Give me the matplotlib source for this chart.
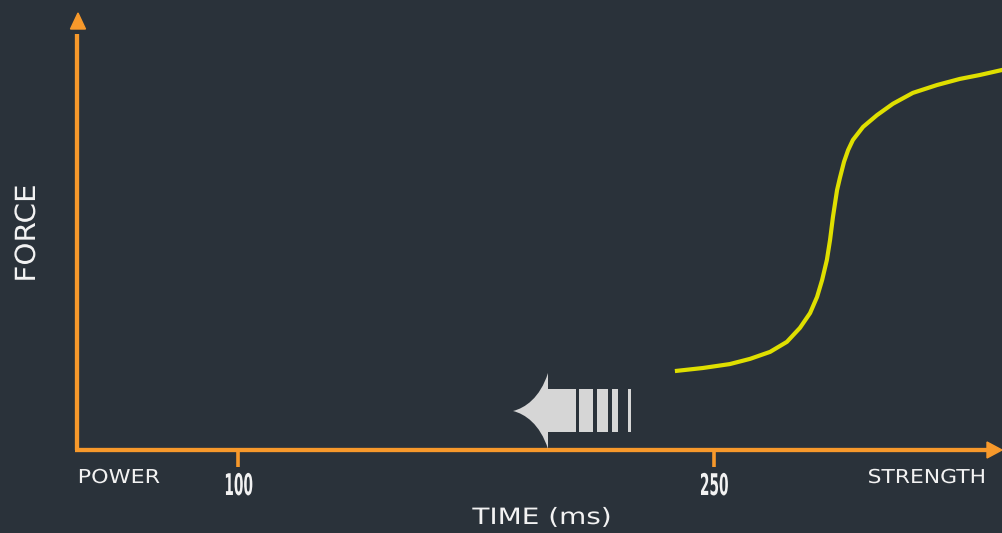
import matplotlib
matplotlib.use("Agg")
import matplotlib.pyplot as plt
import matplotlib.transforms as mtransforms
import matplotlib.patheffects as pe
from matplotlib.patches import Polygon, Rectangle, PathPatch
from matplotlib.path import Path

# colours
BG = "#2a323a"
ORANGE = "#f7992b"
YELLOW = "#dfdf00"
WHITE = "#f2f2f2"
GREY = "#d6d6d6"

# force curve (time in ms, force in arbitrary units)
time_ms = [237.7, 246.5, 255.0, 261.4, 267.7, 273.0, 277.1, 280.3, 282.5,
           284.1, 285.6, 286.6, 287.5, 288.8, 289.7, 291.0, 292.3, 293.8,
           297.0, 301.4, 306.4, 312.7, 320.3, 327.5, 333.8, 341.1]
force = [18.1, 18.8, 19.7, 20.9, 22.5, 24.8, 28.0, 31.4, 35.1,
         39.0, 43.6, 48.2, 53.4, 59.6, 62.4, 66.1, 68.8, 71.1,
         74.1, 76.8, 79.4, 81.9, 83.7, 85.1, 86.0, 87.2]

tick_values = [100, 250]
tick_labels = ["100", "250"]
x_title = "TIME (ms)"
y_title = "FORCE"
left_label = "POWER"
right_label = "STRENGTH"


# stretch glyphs along the text direction (keeps the text as text)
class Stretch(pe.AbstractPathEffect):
    def __init__(self, sx, anchor="center"):
        super().__init__()
        self.sx = sx
        self.anchor = anchor

    def draw_path(self, renderer, gc, tpath, affine, rgbFace=None):
        ext = tpath.get_extents()
        if self.anchor == "left":
            cx = ext.x0
        elif self.anchor == "right":
            cx = ext.x1
        else:
            cx = (ext.x0 + ext.x1) / 2
        sq = mtransforms.Affine2D().translate(-cx, 0).scale(self.sx, 1).translate(cx, 0)
        renderer.draw_path(gc, tpath, sq + affine, rgbFace)


W, H = 1003, 533
fig = plt.figure(figsize=(W / 100, H / 100), dpi=100, facecolor=BG)
ax = fig.add_axes([0, 0, 1, 1])
ax.set_facecolor(BG)
ax.set_xlim(25.0, 341.1)
ax.set_ylim(-19.04, 103.2)
ax.axis("off")

# pixel helper (x right, y down from top-left of the image)
px = mtransforms.Affine2D().scale(1 / W, -1 / H).translate(0, 1) + fig.transFigure

x0 = 49.3  # where the y axis sits

# axes lines
ax.plot([x0 - 0.6, 338.5], [0, 0], color=ORANGE, lw=3.1, solid_capstyle="butt", zorder=3)
ax.plot([x0, x0], [0, 95.5], color=ORANGE, lw=3.1, solid_capstyle="butt", zorder=3)
# arrow heads
fig.patches.append(Polygon([[987, 442], [1002, 450], [987, 458]], closed=True,
                           transform=px, color=ORANGE, zorder=4))
fig.patches.append(Polygon([[70.5, 29], [78, 13], [85.5, 29]], closed=True,
                           transform=px, color=ORANGE, zorder=4))

# ticks
for v, lab in zip(tick_values, tick_labels):
    ax.plot([v, v], [0, -3.9], color=ORANGE, lw=2.6, solid_capstyle="butt", zorder=3)
    ax.text(v, 1 - 495 / H, lab, transform=ax.get_xaxis_transform(),
            ha="center", va="baseline", color=WHITE, fontsize=21.5,
            fontweight="bold", path_effects=[Stretch(0.46)])

# axis texts
fig.text(78 / W, 1 - 483 / H, left_label, ha="left", va="baseline",
         color=WHITE, fontsize=13.8, path_effects=[Stretch(1.16, "left")])
fig.text(986 / W, 1 - 483 / H, right_label, ha="right", va="baseline",
         color=WHITE, fontsize=13.8, path_effects=[Stretch(1.14, "right")])
fig.text(542 / W, 1 - 524 / H, x_title, ha="center", va="baseline",
         color=WHITE, fontsize=16.2, path_effects=[Stretch(1.24)])
fig.text(35 / W, 1 - 233.5 / H, y_title, ha="center", va="baseline",
         rotation=90, rotation_mode="anchor", color=WHITE, fontsize=20,
         path_effects=[Stretch(1.06)])

# the curve
ax.plot(time_ms, force, color=YELLOW, lw=3.0, solid_capstyle="butt",
        solid_joinstyle="round", zorder=5)

# big grey arrow pointing left
head = Path([(548, 373), (540, 398), (525, 408), (513, 411),
             (525, 414), (540, 424), (548, 449), (548, 373)],
            [Path.MOVETO, Path.CURVE4, Path.CURVE4, Path.CURVE4,
             Path.CURVE4, Path.CURVE4, Path.CURVE4, Path.CLOSEPOLY])
fig.patches.append(PathPatch(head, transform=px, color=GREY, lw=0, zorder=4))
for x_a, x_b in [(547, 576), (579, 593), (597, 608), (612, 618), (628, 631)]:
    fig.patches.append(Rectangle((x_a, 389), x_b - x_a, 43, transform=px,
                                 color=GREY, lw=0, zorder=4))

fig.savefig("out.png", dpi=100, facecolor=BG)
